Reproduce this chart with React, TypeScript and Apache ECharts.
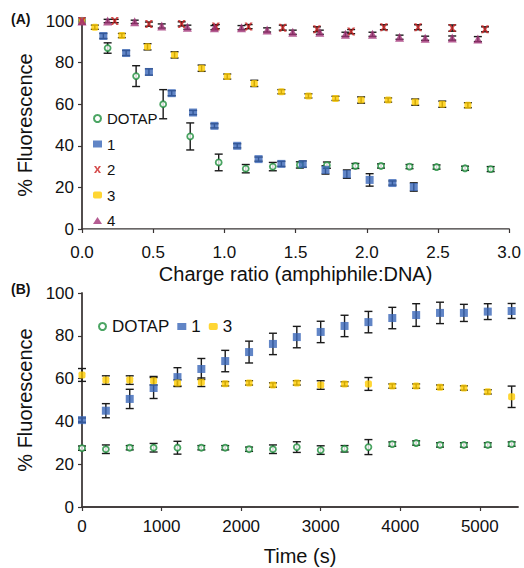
import React, { useEffect, useRef } from "react";
import * as echarts from "echarts";

// ---------- Data: panel A (charge ratio) [x, % fluorescence, error] ----------
const chargeDOTAP = [[0,100,0],[0.18,87,2.5],[0.38,73.5,5],[0.57,60,7],[0.76,44.5,6.5],[0.96,32,4],[1.15,29,2],[1.34,30,2],[1.53,30.8,1.5],[1.72,30.7,1.5],[1.92,30.3,1.2],[2.10,30.3,1],[2.30,30,1],[2.49,29.8,1],[2.69,29.2,1],[2.87,28.8,1.2]];
const charge1 = [[0,100,0],[0.15,92.8,1.2],[0.31,84.6,1.2],[0.47,75.5,1.5],[0.63,65.3,1.2],[0.78,56,1],[0.93,49.6,1],[1.09,40,1],[1.24,33.6,1],[1.40,31.3,1.2],[1.55,31.2,1.5],[1.71,28.4,2],[1.86,26.4,2],[2.02,23.6,3],[2.18,22.1,1],[2.33,20.2,2]];
const charge2 = [[0,100,0],[0.23,100,0.8],[0.47,98.5,1],[0.70,98.6,1],[0.94,97.3,1],[1.17,97.3,1],[1.41,96.8,1.2],[1.65,96,1.2],[1.89,94.9,1],[2.12,97,1.2],[2.36,97,1.2],[2.60,96.6,1.5],[2.83,96,1.2]];
const charge3 = [[0,100,0],[0.09,97,1],[0.28,93,1],[0.46,87.6,1.5],[0.65,83.7,1.5],[0.84,77.3,1.5],[1.02,73.3,1.2],[1.21,70,1.5],[1.40,66,1],[1.59,64,1],[1.78,62.8,1],[1.96,62,1.5],[2.15,62,1],[2.34,61,1.5],[2.53,60,1.5],[2.71,59.5,1.2]];
const charge4 = [[0,100,0],[0.18,100,0.8],[0.37,99.6,0.8],[0.56,97.6,1],[0.74,97,1],[0.93,96.8,1],[1.12,96.8,1],[1.30,95.7,1],[1.48,94.6,1],[1.67,94.6,1],[1.85,93.6,1],[2.04,93.6,1],[2.23,92.2,1],[2.41,91.7,1],[2.60,91.8,1],[2.78,91.3,1.2]];

// ---------- Data: panel B (time course) ----------
const timeS = [0,300,600,900,1200,1500,1800,2100,2400,2700,3000,3300,3600,3900,4200,4500,4800,5100,5400];
const timeDOTAP = [27.5,27,27.7,27.7,27.7,27.7,27.7,27,27,28,26.6,27.2,28,29.4,29.9,29,29,29,29.4];
const timeDOTAPErr = [1,2,1,2,3,1,1,1,2,2.5,2,1.5,3.5,1,1,1,1,1,1];
const time1 = [40.6,45,50.5,55.6,60.7,64.5,68.2,72.4,76.2,79.4,81.8,84.6,86.4,88.3,89.7,90.7,90.7,91.3,91.6];
const time1Err = [1,3.3,4.5,4.9,4.4,4.9,5,5.1,5,5,5,5,5,5,5.3,5,4,3.7,3.5];
const time3 = [61.7,59.3,59.3,59,58,58.3,57.6,58,57,58,57,57.5,57.5,56.5,56.5,56,55.6,53.8,51.5];
const time3Err = [3,2,2,2,1.5,2,1,1,1,1,2,1,3,1,1,1,1,1,5];

const yTicks = [0, 20, 40, 60, 80, 100];
const chargeTicks = [0, 0.5, 1.0, 1.5, 2.0, 2.5, 3.0];
const timeTicks = [0, 1000, 2000, 3000, 4000, 5000];

const FONT = '"Liberation Sans", Arial, Helvetica, sans-serif';
const C_DOTAP = "#1e8f3c";
const C_1 = "#3a66b8";
const C_2 = "#cc2222";
const C_3 = "#ffcc00";
const C_4 = "#a33478";
const X_SYMBOL = "path://M0,0 L3,0 L5,3.6 L7,0 L10,0 L6.6,5 L10,10 L7,10 L5,6.4 L3,10 L0,10 L3.4,5 Z";

function zipTime(vals: number[], errs: number[]) {
  return timeS.map((t, i) => [t, vals[i], errs[i]]);
}

function errBars(name: string, data: number[][], gi: number) {
  return {
    type: "custom",
    name,
    xAxisIndex: gi * 2,
    yAxisIndex: gi * 2,
    data,
    encode: { x: 0, y: 1 },
    z: 2,
    silent: true,
    renderItem: (params: any, api: any) => {
      const x = api.value(0), y = api.value(1), e = api.value(2);
      if (!e) return { type: "group", children: [] };
      const lo = api.coord([x, y - e]);
      const hi = api.coord([x, y + e]);
      const w = 4;
      const st = { stroke: "#1a1a1a", lineWidth: 1.4 };
      return {
        type: "group",
        children: [
          { type: "line", shape: { x1: lo[0], y1: lo[1], x2: hi[0], y2: hi[1] }, style: st },
          { type: "line", shape: { x1: lo[0] - w, y1: lo[1], x2: lo[0] + w, y2: lo[1] }, style: st },
          { type: "line", shape: { x1: hi[0] - w, y1: hi[1], x2: hi[0] + w, y2: hi[1] }, style: st },
        ],
      };
    },
  };
}

function scatter(name: string, data: number[][], gi: number, symbol: string, size: number, itemStyle: any) {
  return {
    type: "scatter",
    name,
    xAxisIndex: gi * 2,
    yAxisIndex: gi * 2,
    data: data.map((d) => [d[0], d[1]]),
    symbol,
    symbolSize: size,
    itemStyle,
    z: 3,
  };
}

const dotapStyle = { color: "#ffffff", borderColor: C_DOTAP, borderWidth: 1.8 };

export default function App() {
  const ref = useRef<HTMLDivElement>(null);
  useEffect(() => {
    if (!ref.current) return;
    const chart = echarts.init(ref.current, undefined, { renderer: "svg" });
    const axisLineMain = { show: true, lineStyle: { color: "#3a3434", width: 1.5 } };
    const labelStyle = { color: "#111", fontFamily: FONT, fontSize: 17 };
    const nameStyle = { color: "#111", fontFamily: FONT, fontSize: 20 };
    const frameAxis = (color: string, width: number) => ({
      type: "value", min: 0, max: 1, axisLine: { show: true, lineStyle: { color, width } },
      axisTick: { show: false }, axisLabel: { show: false }, splitLine: { show: false },
    });
    const tDOTAP = zipTime(timeDOTAP, timeDOTAPErr);
    const t1 = zipTime(time1, time1Err);
    const t3 = zipTime(time3, time3Err);
    const option: any = {
      animation: false,
      backgroundColor: "#ffffff",
      grid: [
        { left: 82, right: 13, top: 21, height: 208 },
        { left: 82, right: 6, top: 293, height: 214 },
      ],
      xAxis: [
        {
          gridIndex: 0, type: "value", min: chargeTicks[0], max: chargeTicks[chargeTicks.length - 1], interval: 0.5,
          name: "Charge ratio (amphiphile:DNA)", nameLocation: "middle", nameGap: 35, nameTextStyle: nameStyle,
          axisLine: axisLineMain, axisTick: { show: true, inside: false, length: 4, lineStyle: { color: "#3a3434", width: 1.2 } },
          axisLabel: { ...labelStyle, margin: 15, formatter: (v: number) => v.toFixed(1) },
          splitLine: { show: false },
        },
        { gridIndex: 0, position: "top", ...frameAxis("#9a9a9a", 1.2) },
        {
          gridIndex: 1, type: "value", min: 0, max: 5480, interval: 1000,
          name: "Time (s)", nameLocation: "middle", nameGap: 39, nameTextStyle: nameStyle,
          axisLine: axisLineMain, axisTick: { show: true, length: 4, lineStyle: { color: "#3a3434", width: 1.2 } },
          axisLabel: { ...labelStyle, margin: 11, showMaxLabel: false, formatter: (v: number) => (timeTicks.includes(v) ? String(v) : "") },
          splitLine: { show: false },
        },
        { gridIndex: 1, position: "top", ...frameAxis("#3a3434", 1.5) },
      ],
      yAxis: [
        {
          gridIndex: 0, type: "value", min: yTicks[0], max: yTicks[yTicks.length - 1], interval: 20,
          name: "% Fluorescence", nameLocation: "middle", nameGap: 47, nameTextStyle: nameStyle,
          axisLine: axisLineMain, axisTick: { show: true, length: 4, lineStyle: { color: "#3a3434", width: 1.2 } },
          axisLabel: { ...labelStyle, margin: 8 }, splitLine: { show: false },
        },
        { gridIndex: 0, position: "right", ...frameAxis("#4a4444", 1.5) },
        {
          gridIndex: 1, type: "value", min: yTicks[0], max: yTicks[yTicks.length - 1], interval: 20,
          name: "% Fluorescence", nameLocation: "middle", nameGap: 47, nameTextStyle: nameStyle,
          axisLine: axisLineMain, axisTick: { show: true, length: 4, lineStyle: { color: "#3a3434", width: 1.2 } },
          axisLabel: { ...labelStyle, margin: 8 }, splitLine: { show: false },
        },
        { gridIndex: 1, position: "right", ...frameAxis("#4a4444", 1.5) },
      ],
      legend: [
        {
          orient: "vertical", left: 88, top: 106, itemWidth: 9, itemHeight: 7, itemGap: 10.5,
          textStyle: { fontFamily: FONT, fontSize: 15, color: "#111" },
          data: ["DOTAP", "1", "2", "3", "4"], selectedMode: false,
        },
        {
          orient: "horizontal", left: 93, top: 313, itemWidth: 9, itemHeight: 7, itemGap: 8,
          textStyle: { fontFamily: FONT, fontSize: 17, color: "#111" },
          data: ["DOTAP", "1", "3"], selectedMode: false,
        },
      ],
      graphic: [
        { type: "text", left: 11, top: 12, style: { text: "(A)", font: `bold 14px ${FONT}`, fill: "#111" } },
        { type: "text", left: 11, top: 282, style: { text: "(B)", font: `bold 14px ${FONT}`, fill: "#111" } },
      ],
      series: [
        errBars("eA_DOTAP", chargeDOTAP, 0),
        errBars("eA_1", charge1, 0),
        errBars("eA_2", charge2, 0),
        errBars("eA_3", charge3, 0),
        errBars("eA_4", charge4, 0),
        scatter("DOTAP", chargeDOTAP, 0, "circle", 6, dotapStyle),
        scatter("1", charge1, 0, "rect", 8, { color: C_1 }),
        scatter("3", charge3, 0, "roundRect", 7, { color: C_3 }),
        scatter("2", charge2, 0, X_SYMBOL, 8, { color: C_2 }),
        scatter("4", charge4, 0, "triangle", 9, { color: C_4 }),
        errBars("eB_DOTAP", tDOTAP, 1),
        errBars("eB_1", t1, 1),
        errBars("eB_3", t3, 1),
        scatter("DOTAP", tDOTAP, 1, "circle", 6, dotapStyle),
        scatter("1", t1, 1, "rect", 8, { color: C_1 }),
        scatter("3", t3, 1, "roundRect", 7, { color: C_3 }),
      ],
    };
    chart.setOption(option);
    return () => chart.dispose();
  }, []);
  return <div ref={ref} style={{ position: "absolute", left: 0, top: 0, width: 524, height: 568, background: "#fff" }} />;
}
